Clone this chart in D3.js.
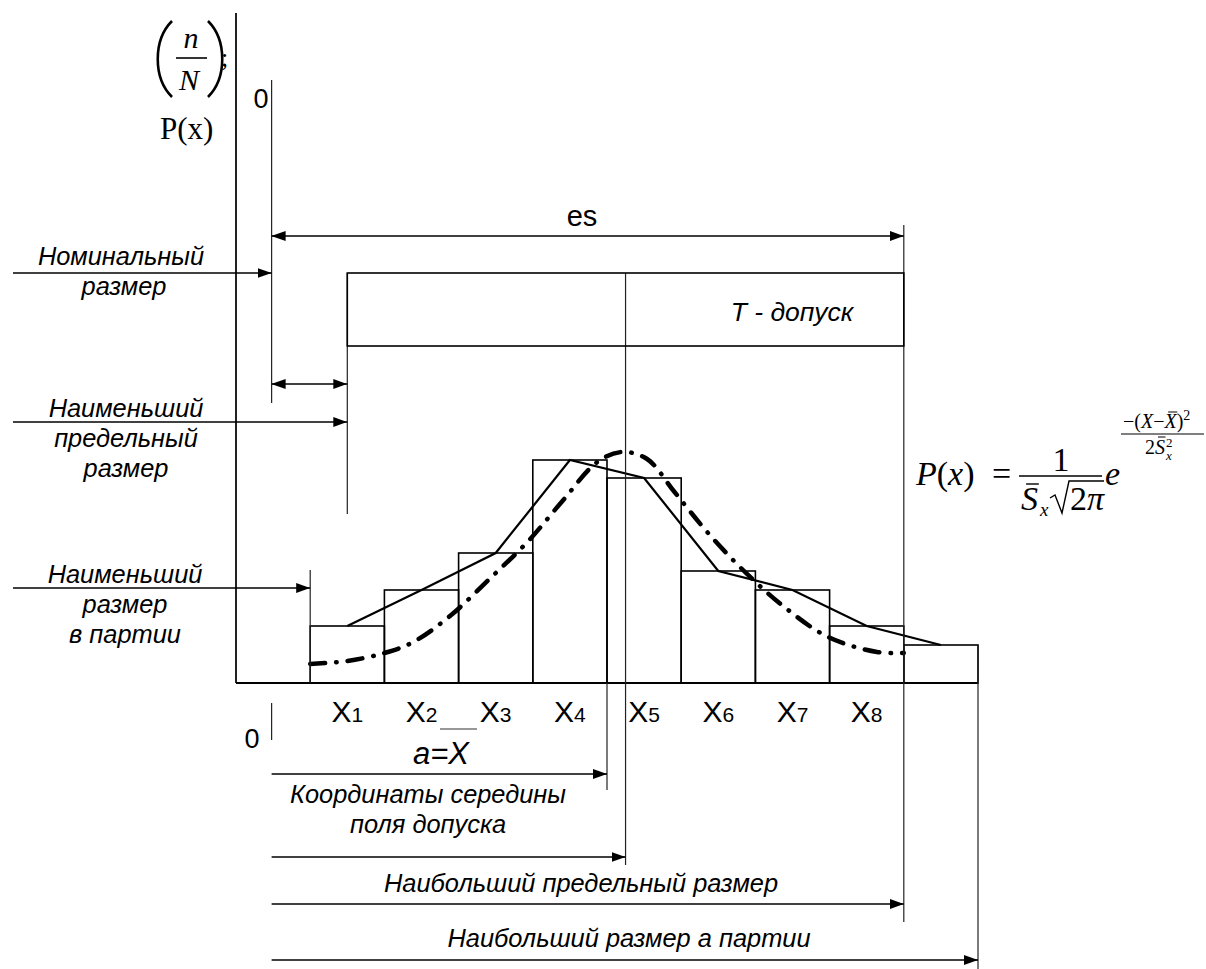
<!DOCTYPE html>
<html>
<head>
<meta charset="utf-8">
<script src="https://cdn.jsdelivr.net/npm/d3@7"></script>
<style>
  body { margin: 0; background: #fff; }
  svg { display: block; }
  .lbl { font-family: "Liberation Sans", Arial, sans-serif; font-style: italic; font-size: 25.4px; fill: #000; }
  .sans { font-family: "Liberation Sans", Arial, sans-serif; font-size: 27px; fill: #000; }
  .serif { font-family: "Liberation Serif", "Times New Roman", serif; fill: #000; }
</style>
</head>
<body>
<div id="chart"></div>
<script>
// relative frequencies n/N of the nine bins
var freq = [0.057, 0.093, 0.130, 0.223, 0.205, 0.112, 0.093, 0.057, 0.038];
var binLabels = ["1", "2", "3", "4", "5", "6", "7", "8"];

// normal curve (bin units, n/N)
var curveX = [0.00, 0.50, 1.00, 1.39, 1.90, 2.43, 2.94, 3.40, 3.87, 4.20, 4.54, 4.91, 5.35, 5.86, 6.39, 6.98, 7.64, 8.00];
var curveY = [0.019, 0.022, 0.030, 0.041, 0.068, 0.105, 0.142, 0.182, 0.221, 0.231, 0.224, 0.191, 0.151, 0.111, 0.076, 0.046, 0.031, 0.030];

// characteristic sizes, in bin units
var zeroRef = -0.52;
var batchMin = 0;
var lowerLim = 0.5;
var meanX = 4.0;
var tolMid = 4.25;
var upperLim = 8.0;
var batchMax = 9.0;

var W = 1206, H = 969;
var svg, x, y;

document.addEventListener('DOMContentLoaded', function () {
  svg = d3.select('#chart').append('svg').attr('width', W).attr('height', H);
  x = d3.scaleLinear().domain([-1, 9]).range([236, 978]);
  y = d3.scaleLinear().domain([0, 0.671]).range([683, 12]);
  addMarker();
  drawHistogram();
  drawAxes();
  drawTolerance();
  drawLabels();
  drawFormula();
});

function addMarker() {
  svg.append('defs').append('marker')
    .attr('id', 'arr')
    .attr('markerUnits', 'userSpaceOnUse')
    .attr('viewBox', '0 0 14 10')
    .attr('refX', 14).attr('refY', 5)
    .attr('markerWidth', 14).attr('markerHeight', 10)
    .attr('orient', 'auto-start-reverse')
    .append('path').attr('d', 'M0,0 L14,5 L0,10 Z').attr('fill', '#000');
}

function vline(xv, y1, y2, w) {
  svg.append('line')
    .attr('x1', xv).attr('x2', xv).attr('y1', y1).attr('y2', y2)
    .attr('stroke', '#222').attr('stroke-width', w || 1.2);
}

function arrow(x1, x2, yv, both) {
  var l = svg.append('line')
    .attr('x1', x1).attr('x2', x2).attr('y1', yv).attr('y2', yv)
    .attr('stroke', '#000').attr('stroke-width', 1.3)
    .attr('marker-end', 'url(#arr)');
  if (both) l.attr('marker-start', 'url(#arr)');
}

// thin bar over one character of a text element
function overbar(textSel, idx, dy, w) {
  var r = textSel.node().getExtentOfChar(idx);
  svg.append('line')
    .attr('x1', r.x + r.width * 0.3).attr('x2', r.x + r.width * 0.3 + r.width * 0.75)
    .attr('y1', r.y + dy).attr('y2', r.y + dy)
    .attr('stroke', '#000').attr('stroke-width', w || 1);
}

function drawHistogram() {
  svg.selectAll('rect.bin').data(freq).enter().append('rect')
    .attr('class', 'bin')
    .attr('x', (d, i) => x(i))
    .attr('y', d => y(d))
    .attr('width', x(1) - x(0))
    .attr('height', d => y(0) - y(d))
    .attr('fill', 'none').attr('stroke', '#000').attr('stroke-width', 1.6);

  // frequency polygon through the bin mid-points
  var poly = d3.line().x((d, i) => x(i + 0.5)).y(d => y(d));
  svg.append('path').attr('d', poly(freq))
    .attr('fill', 'none').attr('stroke', '#000').attr('stroke-width', 2.2);

  // theoretical curve, dash-dot
  var pts = curveX.map((v, i) => [v, curveY[i]]);
  var curve = d3.line().x(d => x(d[0])).y(d => y(d[1])).curve(d3.curveCatmullRom);
  svg.append('path').attr('d', curve(pts))
    .attr('fill', 'none').attr('stroke', '#000').attr('stroke-width', 4.5)
    .attr('stroke-linecap', 'round')
    .attr('stroke-dasharray', '15,11,0.5,11');
}

function drawAxes() {
  vline(x(-1), 13, y(0), 2);
  svg.append('line')
    .attr('x1', x(-1)).attr('x2', x(batchMax)).attr('y1', y(0)).attr('y2', y(0))
    .attr('stroke', '#000').attr('stroke-width', 2);

  svg.selectAll('text.xl').data(binLabels).enter().append('text')
    .attr('class', 'sans')
    .attr('x', (d, i) => x(i + 0.5))
    .attr('y', 722)
    .style('font-size', '30px')
    .attr('text-anchor', 'middle')
    .each(function (d) {
      var t = d3.select(this);
      t.append('tspan').text('X');
      t.append('tspan').style('font-size', '21px').text(d);
    });

  // y axis title: (n/N); P(x)
  var g = svg.append('g');
  g.append('path').attr('d', 'M172,21 C153,40 153,78 172,97')
    .attr('fill', 'none').attr('stroke', '#000').attr('stroke-width', 2.6);
  g.append('path').attr('d', 'M208,21 C227,40 227,78 208,97')
    .attr('fill', 'none').attr('stroke', '#000').attr('stroke-width', 2.6);
  g.append('text').attr('class', 'serif').attr('x', 191).attr('y', 48)
    .attr('text-anchor', 'middle').attr('font-size', 30).attr('font-style', 'italic').text('n');
  g.append('line').attr('x1', 176).attr('x2', 207).attr('y1', 58).attr('y2', 58)
    .attr('stroke', '#000').attr('stroke-width', 1.6);
  g.append('text').attr('class', 'serif').attr('x', 189).attr('y', 90)
    .attr('text-anchor', 'middle').attr('font-size', 30).attr('font-style', 'italic').text('N');
  g.append('text').attr('class', 'serif').attr('x', 221).attr('y', 66)
    .attr('font-size', 26).text(';');
  g.append('text').attr('class', 'serif').attr('x', 160).attr('y', 139)
    .attr('font-size', 31).text('P(x)');
}

function drawTolerance() {
  // reference verticals
  vline(x(zeroRef), 80, 403);
  vline(x(lowerLim), 273, 514);
  vline(x(batchMin), 570, y(0));
  vline(x(tolMid), 273, 865);
  vline(x(upperLim), 225, 922);
  vline(x(meanX), y(0), 790);
  vline(x(batchMax), y(freq[8]), 975);
  vline(x(zeroRef), 703, 740);

  // tolerance field T
  svg.append('rect')
    .attr('x', x(lowerLim)).attr('y', 273)
    .attr('width', x(upperLim) - x(lowerLim)).attr('height', 73)
    .attr('fill', 'none').attr('stroke', '#000').attr('stroke-width', 1.6);

  arrow(x(zeroRef), x(upperLim), 236, true);
  arrow(x(zeroRef), x(lowerLim), 384, true);
  arrow(13, x(zeroRef), 273);
  arrow(13, x(lowerLim), 422);
  arrow(13, x(batchMin), 588);
  arrow(x(zeroRef), x(meanX), 774);
  arrow(x(zeroRef), x(tolMid), 857);
  arrow(x(zeroRef), x(upperLim), 904);
  arrow(x(zeroRef), x(batchMax), 960);
}

function text(cls, tx, ty, s, anchor) {
  return svg.append('text').attr('class', cls).attr('x', tx).attr('y', ty)
    .attr('text-anchor', anchor || 'middle').text(s);
}

function drawLabels() {
  text('sans', 582, 226, 'es').style('font-size', '29px');
  text('sans', 261, 108, '0');
  text('sans', 252, 748, '0');
  text('lbl', 792, 321, 'Т - допуск').style('font-size', '26.5px');

  text('lbl', 121, 265, 'Номинальный');
  text('lbl', 124, 295, 'размер');
  text('lbl', 126, 417, 'Наименьший');
  text('lbl', 126, 447, 'предельный');
  text('lbl', 126, 477, 'размер');
  text('lbl', 125, 583, 'Наименьший');
  text('lbl', 125, 613, 'размер');
  text('lbl', 125, 643, 'в партии');

  text('lbl', 441, 764, 'a=X').style('font-size', '31px');
  svg.append('line').attr('x1', 440).attr('x2', 477).attr('y1', 729).attr('y2', 729)
    .attr('stroke', '#333').attr('stroke-width', 1.2);

  text('lbl', 428, 803, 'Координаты середины');
  text('lbl', 428, 833, 'поля допуска');
  text('lbl', 581, 892, 'Наибольший предельный размер');
  text('lbl', 629, 947, 'Наибольший размер а партии');
}

function drawFormula() {
  var B = 485;
  var g = svg.append('g').attr('class', 'serif');
  var t = g.append('text').attr('x', 916).attr('y', B).attr('font-size', 34);
  t.append('tspan').attr('font-style', 'italic').text('P');
  t.append('tspan').text('(');
  t.append('tspan').attr('font-style', 'italic').text('x');
  t.append('tspan').text(')');
  g.append('text').attr('x', 992).attr('y', B).attr('font-size', 34).text('=');

  g.append('line').attr('x1', 1019).attr('x2', 1102).attr('y1', B - 9).attr('y2', B - 9)
    .attr('stroke', '#000').attr('stroke-width', 1.5);
  g.append('text').attr('x', 1061).attr('y', B - 14).attr('font-size', 34)
    .attr('text-anchor', 'middle').text('1');

  // denominator S̄x √2π
  var s = g.append('text').attr('x', 1021).attr('y', B + 25).attr('font-size', 34)
    .attr('font-style', 'italic').text('S');
  overbar(s, 0, 4, 1.4);
  g.append('text').attr('x', 1040).attr('y', B + 31).attr('font-size', 19)
    .attr('font-style', 'italic').text('x');
  g.append('path').attr('d', 'M1050,' + (B + 13) + ' L1055,' + (B + 10) + ' L1062,' + (B + 28) +
      ' L1069,' + (B - 4) + ' L1104,' + (B - 4))
    .attr('fill', 'none').attr('stroke', '#000').attr('stroke-width', 1.4);
  g.append('text').attr('x', 1070).attr('y', B + 25).attr('font-size', 34).text('2');
  g.append('text').attr('x', 1087).attr('y', B + 25).attr('font-size', 34)
    .attr('font-style', 'italic').text('π');

  g.append('text').attr('x', 1105).attr('y', B).attr('font-size', 34)
    .attr('font-style', 'italic').text('e');

  // exponent
  var n = g.append('text').attr('x', 1123).attr('y', B - 57).attr('font-size', 20);
  n.append('tspan').text('−(');
  n.append('tspan').attr('font-style', 'italic').text('X');
  n.append('tspan').text('−');
  n.append('tspan').attr('font-style', 'italic').text('X');
  n.append('tspan').text(')');
  n.append('tspan').attr('font-size', 14).attr('dy', -8).text('2');
  overbar(n, 4, 2, 1);
  g.append('line').attr('x1', 1121).attr('x2', 1204).attr('y1', B - 51).attr('y2', B - 51)
    .attr('stroke', '#000').attr('stroke-width', 1.1);
  var d = g.append('text').attr('x', 1145).attr('y', B - 31).attr('font-size', 20);
  d.append('tspan').text('2');
  d.append('tspan').attr('font-style', 'italic').text('S');
  overbar(d, 1, 1, 1);
  g.append('text').attr('x', 1166).attr('y', B - 38).attr('font-size', 13).text('2');
  g.append('text').attr('x', 1166).attr('y', B - 25).attr('font-size', 13)
    .attr('font-style', 'italic').text('x');
}
</script>
</body>
</html>
